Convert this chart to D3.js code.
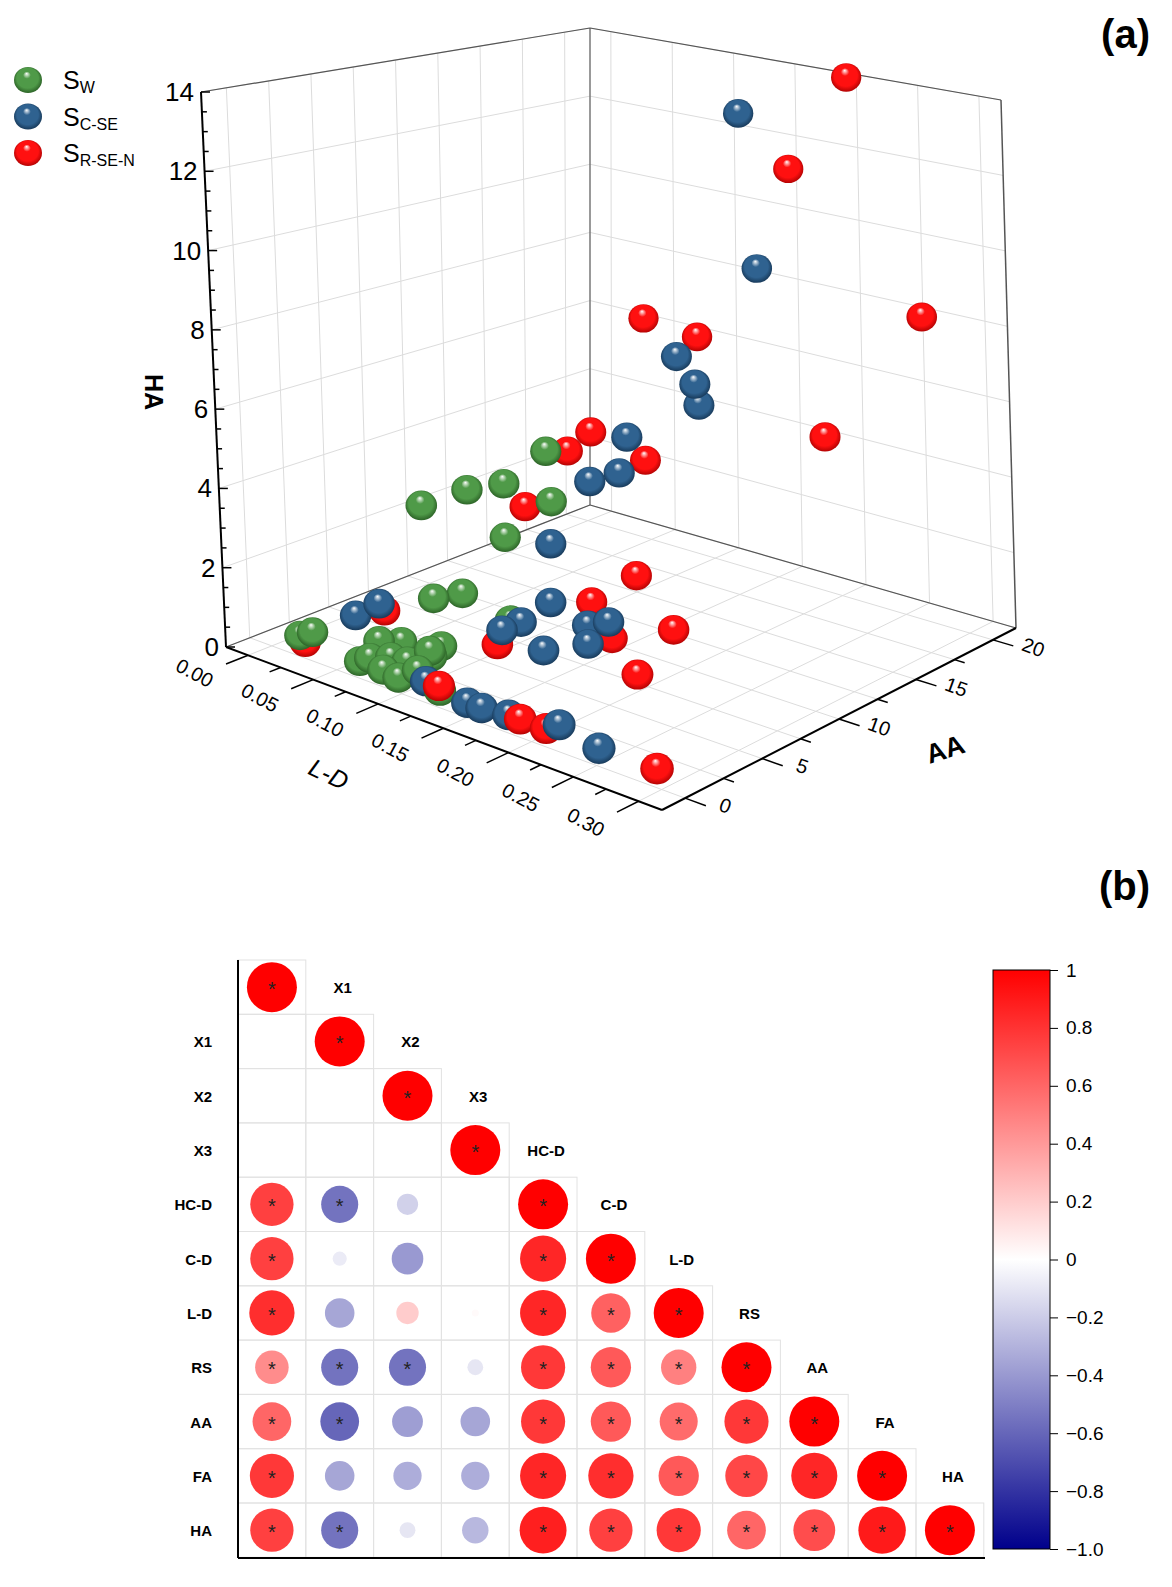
<!DOCTYPE html>
<html><head><meta charset="utf-8">
<script src="https://cdn.jsdelivr.net/npm/d3@7"></script>
<style>body{margin:0;background:#fff}svg{font-family:Arial,"Liberation Sans",sans-serif}</style>
</head><body><svg id="fig" width="1172" height="1587"></svg>
<script>
// ---- panel (a) data: [L-D, AA, HA]
const swPoints = [[.021,.1,.5],[.031,.1,.7],[.067,.1,.4],[.085,.1,.4],[.084,.69,.6],[.077,1.95,.7],[.091,1.15,.5],[.095,.23,.3],[.104,.74,.5],[.100,1.95,.6],[.098,2.76,.7],[.125,.4,.3],[.079,3.9,1.5],[.090,4.83,1.6],[.082,3.1,4.0],[.092,5.17,4.2],[.105,6.44,4.3],[.117,8.16,5.0],[.123,7.93,3.8],[.099,6.9,2.8],[.101,6.9,.7],[.071,1.03,.8],[.072,.34,.5],[.106,1.38,.9]];
const scsePoints = [[.151,17.9,13.0],[.170,17.4,9.0],[.162,12.9,7.2],[.176,12.9,6.6],[.175,13.2,6.0],[.149,10.7,5.3],[.151,10.0,4.5],[.139,9.1,4.3],[.117,8.3,2.6],[.052,1.15,1.2],[.062,1.84,1.5],[.133,6.9,1.5],[.120,4.83,1.0],[.128,5.4,1.2],[.142,5.63,.6],[.144,8.3,.8],[.158,8.5,1.0],[.147,8.05,.4],[.118,.1,.5],[.148,.23,.3],[.159,.23,.3],[.177,.46,.3],[.212,.8,.4],[.251,.1,.4]];
const srsenPoints = [[.201,20.8,14.0],[.167,19.7,11.4],[.258,20.8,7.9],[.100,15.75,7.3],[.134,16.4,7.0],[.127,10.2,5.3],[.107,10.3,4.6],[.143,12.3,4.4],[.104,7.8,3.5],[.234,16.4,5.2],[.151,10.9,1.7],[.134,9.4,1.1],[.189,10.1,.85],[.156,8.85,.5],[.116,4.83,.6],[.195,7.24,.3],[.059,2.41,1.2],[.022,.34,.3],[.128,.1,.5],[.186,.46,.3],[.206,.46,.3],[.295,.16,.4]];
const ldTicks = [0,.05,.1,.15,.2,.25,.3];
const aaTicks = [0,5,10,15,20];
const haTicks = [0,2,4,6,8,10,12,14];
const ldRange = [-0.017,0.318], aaRange = [-1.5,21.5], haRange = [0,14];

// ---- panel (b) data
const varNames = ["", "X1","X2","X3","HC-D","C-D","L-D","RS","AA","FA","HA"];
const corr = [
 [1],
 [0,1],
 [0,0,1],
 [0,0,0,1],
 [.75,-.55,-.18,0,1],
 [.75,-.08,-.4,0,.85,1],
 [.82,-.35,.2,.02,.85,.62,1],
 [.45,-.55,-.55,-.1,.78,.65,.5,1],
 [.6,-.6,-.38,-.35,.78,.65,.58,.78,1],
 [.78,-.35,-.32,-.32,.85,.82,.65,.72,.85,1],
 [.75,-.55,-.1,-.28,.88,.75,.78,.6,.7,.9,1]];
const sig = [
 [1],[0,1],[0,0,1],[0,0,0,1],
 [1,1,0,0,1],[1,0,0,0,1,1],[1,0,0,0,1,1,1],[1,1,1,0,1,1,1,1],
 [1,1,0,0,1,1,1,1,1],[1,0,0,0,1,1,1,1,1,1],[1,1,0,0,1,1,1,1,1,1,1]];
const cbTicks = [1,.8,.6,.4,.2,0,-.2,-.4,-.6,-.8,-1];

const svg = d3.select('#fig');
const defs = svg.append('defs');

// ---------- panel (a): perspective box
const uS = d3.scaleLinear().domain(ldRange).range([0,1]);
const vS = d3.scaleLinear().domain(aaRange).range([0,1]);
const hS = d3.scaleLinear().domain(haRange).range([0,1]);
const C = {p00:[226,647],p10:[662,810],p11:[1016,628],p01:[590,505]};
const H = {h00:555,h10:615,h11:528,h01:477};
const L = {l00:-25,l10:-22,l11:-15,l01:0};
function bl(a00,a10,a11,a01,u,v){return (1-u)*(1-v)*a00+u*(1-v)*a10+u*v*a11+(1-u)*v*a01;}
function proj(ld,aa,ha){
  const u=uS(ld), v=vS(aa), t=hS(ha);
  const fx=bl(C.p00[0],C.p10[0],C.p11[0],C.p01[0],u,v);
  const fy=bl(C.p00[1],C.p10[1],C.p11[1],C.p01[1],u,v);
  const h=bl(H.h00,H.h10,H.h11,H.h01,u,v), l=bl(L.l00,L.l10,L.l11,L.l01,u,v);
  return [fx+l*t, fy-h*t, fy];
}
const [ld0,ld1]=ldRange, [aa0,aa1]=aaRange;
const gA = svg.append('g');
const line = (a,b,col,w)=>gA.append('line').attr('x1',a[0]).attr('y1',a[1]).attr('x2',b[0]).attr('y2',b[1]).attr('stroke',col).attr('stroke-width',w);
const grid='#dcdcdc';
const ldGrid=d3.range(0,0.3001,0.05), aaGrid=d3.range(0,20.01,2.5);
// floor grid
ldGrid.forEach(d=>line(proj(d,aa0,0),proj(d,aa1,0),grid,1));
aaGrid.forEach(d=>line(proj(ld0,d,0),proj(ld1,d,0),grid,1));
// left wall (L-D min)
aaGrid.forEach(d=>line(proj(ld0,d,0),proj(ld0,d,14),grid,1));
haTicks.forEach(d=>line(proj(ld0,aa0,d),proj(ld0,aa1,d),grid,1));
// right wall (AA max)
ldGrid.forEach(d=>line(proj(d,aa1,0),proj(d,aa1,14),grid,1));
haTicks.forEach(d=>line(proj(ld0,aa1,d),proj(ld1,aa1,d),grid,1));
// frame
line(proj(ld0,aa1,0),proj(ld0,aa1,14),'#777',1.5);
line(proj(ld1,aa1,0),proj(ld1,aa1,14),'#555',1.5);
line(proj(ld0,aa0,14),proj(ld0,aa1,14),'#555',1.2);
line(proj(ld0,aa1,14),proj(ld1,aa1,14),'#555',1.2);
line(proj(ld0,aa1,0),proj(ld1,aa1,0),'#555',1.2);
line(proj(ld0,aa0,0),proj(ld0,aa1,0),'#555',1.2);
// axes
line(proj(ld0,aa0,0),proj(ld0,aa0,14),'#000',2);
line(proj(ld0,aa0,0),proj(ld1,aa0,0),'#000',2);
line(proj(ld1,aa0,0),proj(ld1,aa1,0),'#000',2);
// HA ticks
d3.range(0,14.01,0.5).forEach(d=>{const p=proj(ld0,aa0,d);const major=d%2===0;line(p,[p[0]+(major?9:5),p[1]],'#000',1.5);});
haTicks.forEach(d=>{const p=proj(ld0,aa0,d);gA.append('text').attr('x',p[0]-7).attr('y',p[1]+9).attr('text-anchor','end').attr('font-size',26).text(d);});
// L-D ticks
d3.range(0,0.3001,0.025).forEach((d,i)=>{const p=proj(d,aa0,0);const q=proj(d,aa0-(i%2?0.7:1.4),0);line(p,q,'#000',1.5);});
ldTicks.forEach(d=>{const p=proj(d,aa0-2.2,0);gA.append('text').attr('transform',`translate(${p[0]-22},${p[1]+10}) rotate(28)`).attr('text-anchor','middle').attr('font-size',20).text(d.toFixed(2));});
// AA ticks
d3.range(0,20.01,2.5).forEach((d,i)=>{const p=proj(ld1,d,0);const q=proj(ld1+(i%2?.008:.016),d,0);line(p,q,'#000',1.5);});
aaTicks.forEach(d=>{const p=proj(ld1,d,0);gA.append('text').attr('transform',`translate(${p[0]+38},${p[1]+14}) rotate(20)`).attr('text-anchor','middle').attr('font-size',20).text(d);});
// axis titles
gA.append('text').attr('transform','translate(145,392) rotate(90)').attr('text-anchor','middle').attr('font-size',25).attr('font-weight','bold').text('HA');
gA.append('text').attr('transform','translate(325,782) rotate(25)').attr('text-anchor','middle').attr('font-size',25).attr('font-style','italic').text('L-D');
gA.append('text').attr('transform','translate(948,758) rotate(-18)').attr('text-anchor','middle').attr('font-size',27).attr('font-weight','bold').text('AA');

// spheres
const series=[
 {key:'sw',data:swPoints,base:'#4f9a48',dark:'#24561f',name:'S',sub:'W'},
 {key:'sc',data:scsePoints,base:'#2f6290',dark:'#12304d',name:'S',sub:'C-SE'},
 {key:'sr',data:srsenPoints,base:'#ff1010',dark:'#a00000',name:'S',sub:'R-SE-N'}];
series.forEach(s=>{
  const g=defs.append('radialGradient').attr('id','g_'+s.key).attr('cx','50%').attr('cy','50%').attr('r','55%').attr('fx','45%').attr('fy','25%');
  g.append('stop').attr('offset','0%').attr('stop-color','#fff');
  g.append('stop').attr('offset','25%').attr('stop-color',s.base);
  g.append('stop').attr('offset','70%').attr('stop-color',s.base);
  g.append('stop').attr('offset','100%').attr('stop-color',s.dark);
});
const all=[];
series.forEach(s=>s.data.forEach(d=>{const p=proj(d[0],d[1],d[2]);all.push({x:p[0],y:p[1],depth:p[2],key:s.key});}));
all.sort((a,b)=>a.depth-b.depth);
const rS=d3.scaleLinear().domain([505,810]).range([14,16.5]);
gA.selectAll('ellipse.sp').data(all).enter().append('ellipse').attr('class','sp')
  .attr('cx',d=>d.x).attr('cy',d=>d.y).attr('rx',d=>rS(d.depth)*1.03).attr('ry',d=>rS(d.depth)*0.97)
  .attr('fill',d=>`url(#g_${d.key})`);
// legend
series.forEach((s,i)=>{
  const y=80+i*36.5;
  gA.append('ellipse').attr('cx',28).attr('cy',y).attr('rx',14).attr('ry',13).attr('fill',`url(#g_${s.key})`);
  const t=gA.append('text').attr('x',63).attr('y',y+9).attr('font-size',25).text(s.name);
  t.append('tspan').attr('font-size',16).attr('dy',4).text(s.sub);
});
svg.append('text').attr('x',1150).attr('y',48).attr('text-anchor','end').attr('font-size',40).attr('font-weight','bold').text('(a)');
svg.append('text').attr('x',1150).attr('y',900).attr('text-anchor','end').attr('font-size',40).attr('font-weight','bold').text('(b)');

// ---------- panel (b): correlation matrix
const n=varNames.length;
const xS=d3.scaleBand().domain(d3.range(n)).range([238,238+67.8*n]);
const yS=d3.scaleBand().domain(d3.range(n)).range([960,960+54.3*n]);
const col=d3.scaleLinear().domain([-1,0,1]).range(['#00008b','#ffffff','#ff0000']);
const rad=d3.scaleSqrt().domain([0,1]).range([0,25]);
const gB=svg.append('g');
corr.forEach((row,i)=>row.forEach((r,j)=>{
  const x=xS(j), y=yS(i), cx=x+xS.bandwidth()/2, cy=y+yS.bandwidth()/2;
  gB.append('rect').attr('x',x).attr('y',y).attr('width',xS.bandwidth()).attr('height',yS.bandwidth()).attr('fill','none').attr('stroke','#e2e2e2');
  if(Math.abs(r)>0.005) gB.append('circle').attr('cx',cx).attr('cy',cy).attr('r',rad(Math.abs(r))).attr('fill',col(r));
  if(sig[i][j]) gB.append('text').attr('x',cx).attr('y',cy+9).attr('text-anchor','middle').attr('font-size',20).attr('fill','#222').text('*');
}));
varNames.forEach((nm,i)=>{
  gB.append('text').attr('x',212).attr('y',yS(i)+yS.bandwidth()/2+6).attr('text-anchor','end').attr('font-size',15).attr('font-weight','bold').text(nm);
  if(i+1<n) gB.append('text').attr('x',xS(i+1)+xS.bandwidth()/2+3).attr('y',yS(i)+yS.bandwidth()/2+6).attr('text-anchor','middle').attr('font-size',15).attr('font-weight','bold').text(varNames[i+1]);
});
gB.append('line').attr('x1',238).attr('y1',960).attr('x2',238).attr('y2',1558).attr('stroke','#000').attr('stroke-width',2);
gB.append('line').attr('x1',238).attr('y1',1558).attr('x2',985).attr('y2',1558).attr('stroke','#000').attr('stroke-width',2);

// colorbar
const cbY=d3.scaleLinear().domain([1,-1]).range([970,1549]);
const lg=defs.append('linearGradient').attr('id','cb').attr('x1',0).attr('y1',0).attr('x2',0).attr('y2',1);
[1,0,-1].forEach((v,i)=>lg.append('stop').attr('offset',i*50+'%').attr('stop-color',col(v)));
gB.append('rect').attr('x',993).attr('y',970).attr('width',57).attr('height',579).attr('fill','url(#cb)').attr('stroke','#000');
const cbAxis=d3.axisRight(cbY).tickValues(cbTicks).tickSize(8).tickFormat(d=>d===1?'1':d===0?'0':d===-1?'\u22121.0':d3.format('.1f')(d).replace('-','\u2212'));
const ax=gB.append('g').attr('transform','translate(1050,0)').call(cbAxis);
ax.select('.domain').remove();
ax.selectAll('text').attr('font-size',19).attr('font-family','Arial,Liberation Sans').attr('x',16);
</script></body></html>
